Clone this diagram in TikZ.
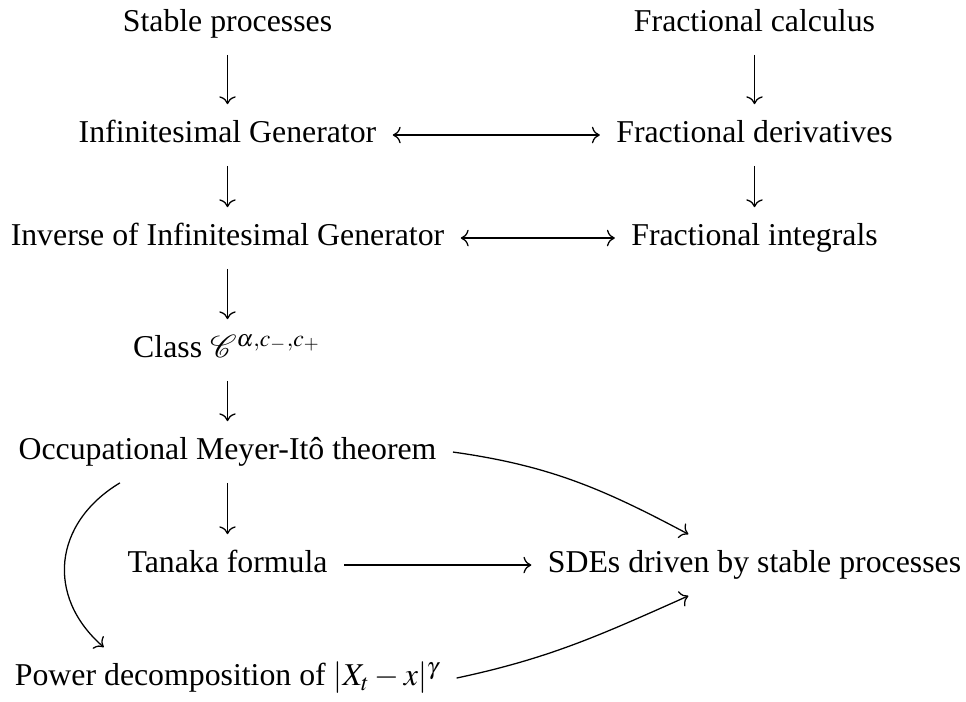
\documentclass[tikz,border=0pt]{standalone}
\usepackage{mathptmx}
\usepackage{mathrsfs}
\usepackage[no-math]{fontspec}
\setmainfont{Liberation Serif}
\usetikzlibrary{arrows.meta, positioning}

\begin{document}
\begin{tikzpicture}[x=0.3145pt, y=0.3145pt,
    box/.style={anchor=base, inner sep=5pt, text height=7pt, text depth=2pt},
    arr/.style={->, thin}]
    \useasboundingbox (0,0) rectangle (966,702);

    % Left column
    \node[box] (stable) at (227.5,670) {Stable processes};
    \node[box] (igen)   at (227.5,559) {Infinitesimal Generator};
    \node[box] (inv)    at (227.5,456) {Inverse of Infinitesimal Generator};
    \node[box] (cls)    at (227.5,344) {Class $\mathscr{C}^{\alpha,c_-,c_+}$};
    \node[box] (occ)    at (227.5,242) {Occupational Meyer-Itô theorem};
    \node[box] (tanaka) at (227.5,129) {Tanaka formula};
    \node[box] (power)  at (227.5,16)  {Power decomposition of $|X_t-x|^\gamma$};

    % Right column
    \node[box] (fcalc)  at (754.5,670) {Fractional calculus};
    \node[box] (fderiv) at (754.5,559) {Fractional derivatives};
    \node[box] (fint)   at (754.5,456) {Fractional integrals};
    \node[box] (sdes)   at (754.5,129) {SDEs driven by stable processes};

    % Vertical arrows
    \draw[arr] (stable) -- (igen);
    \draw[arr] (igen) -- (inv);
    \draw[arr] (inv) -- (cls);
    \draw[arr] (cls) -- (occ);
    \draw[arr] (occ) -- (tanaka);
    \draw[arr] (fcalc) -- (fderiv);
    \draw[arr] (fderiv) -- (fint);

    % Horizontal links
    \draw[<->, thin] (igen) -- (fderiv);
    \draw[<->, thin] (inv) -- (fint);
    \draw[arr] (tanaka) -- (sdes);

    % Curved arrows
    \draw[arr] (occ.east) to[out=-8, in=152] (sdes.155);
    \draw[arr] (power.east) to[out=12, in=-156] (sdes.205);
    \draw[arr] (occ.196) to[out=211, in=139, looseness=1.2] (power.166);
\end{tikzpicture}
\end{document}
